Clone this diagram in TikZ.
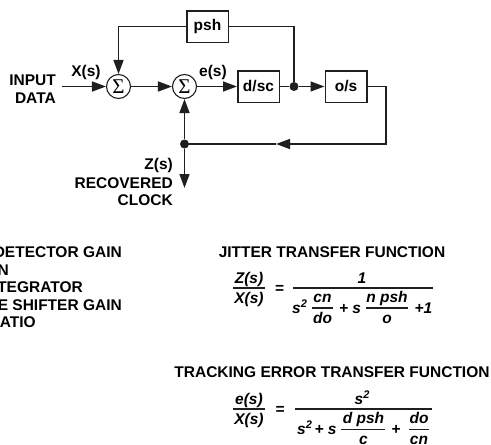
\documentclass[tikz,border=0pt]{standalone}
\usepackage{fontspec}
\setmainfont{Liberation Sans}
\newfontfamily\sigmafont{Liberation Serif}
\usetikzlibrary{arrows.meta}
\begin{document}
\begin{tikzpicture}[x=1pt,y=-1pt,
  ln/.style={line width=1.5pt,draw=black!88},
  arr/.style={ln,-{Triangle[length=14pt,width=10pt]}},
  blk/.style={draw=black!88,line width=1.5pt,minimum width=41.5pt,minimum height=31.5pt,inner sep=0pt,font=\fontsize{15.5}{15.5}\selectfont\bfseries},
  sumc/.style={circle,draw=black!88,line width=1.1pt,minimum size=24pt,inner sep=0pt,font=\sigmafont\fontsize{21}{21}\selectfont},
  dotn/.style={circle,fill=black!88,inner sep=0pt,minimum size=9pt},
  lbl/.style={inner sep=0pt,text height=11.1pt,text depth=0pt,font=\fontsize{15.5}{15.5}\selectfont\bfseries},
  eq/.style={inner sep=0pt,font=\fontsize{15.5}{15.5}\selectfont\bfseries\itshape},
  frl/.style={line width=1.2pt,draw=black!88}
]
\useasboundingbox (0,0) rectangle (491,445);

% blocks
\node[blk] (psh) at (207.5,26.5) {psh};
\node[blk] (dsc) at (258.5,86.5) {d/sc};
\node[blk] (os) at (346,86.5) {o/s};
\node[sumc] (s1) at (118.5,86.5) {Σ};
\node[sumc] (s2) at (184.5,86.5) {Σ};
\node[dotn] (j1) at (294,86.5) {};
\node[dotn] (j2) at (184.5,144) {};
\coordinate (in) at (62,86.5);
\coordinate (c1) at (118.5,26.5);
\coordinate (c2) at (294,26.5);
\coordinate (c3) at (386,86.5);
\coordinate (c4) at (386,144);
\coordinate (tip) at (276,144);
\coordinate (zout) at (184.5,188);

% connectors
\draw[arr] (in) -- (s1);
\draw[arr] (s1) -- (s2);
\draw[arr] (s2) -- (dsc);
\draw[ln] (dsc) -- (j1);
\draw[arr] (j1) -- (os);
\draw[ln] (j1) -- (c2) -- (psh);
\draw[arr] (psh) -- (c1) -- (s1);
\draw[arr] (os) -- (c3) -- (c4) -- (tip);
\draw[ln] (tip) -- (j2);
\draw[arr] (j2) -- (s2);
\draw[arr] (j2) -- (zout);

% labels
\node[lbl,anchor=east] (inp) at (56,80) {INPUT};
\node[lbl,anchor=east] (dat) at (56,97.5) {DATA};
\node[lbl] (xs) at (86,71) {X(s)};
\node[lbl] (es) at (213,71) {e(s)};
\node[lbl,anchor=east] (zs) at (173,164) {Z(s)};
\node[lbl,anchor=east] (rec) at (173,182.5) {RECOVERED};
\node[lbl,anchor=east] (clk) at (173,199.5) {CLOCK};

% left legend (clipped at the edge, as in the reference)
\node[lbl,anchor=east] (g1) at (122,252) {DETECTOR GAIN};
\node[lbl,anchor=east] (g2) at (9,269.5) {N};
\node[lbl,anchor=east] (g3) at (83,287) {TEGRATOR};
\node[lbl,anchor=east] (g4) at (122,304.5) {E SHIFTER GAIN};
\node[lbl,anchor=east] (g5) at (36,322) {ATIO};

% headings
\node[lbl] (h1) at (332,252) {JITTER TRANSFER FUNCTION};
\node[lbl] (h2) at (332,372) {TRACKING ERROR TRANSFER FUNCTION};

% jitter transfer function
\node[eq,anchor=base] (jz) at (249,283) {Z(s)};
\draw[frl] (233,288) -- (265,288);
\node[eq,anchor=base] (jx) at (249,303.5) {X(s)};
\node[eq,anchor=base] (jeq) at (279.5,293.3) {=};
\node[eq,anchor=base] (jone) at (362,283.5) {1};
\draw[frl] (293,288) -- (433,288);
\node[eq,anchor=base west] (js2) at (292,313) {s\raisebox{5.5pt}{\fontsize{11}{11}\selectfont 2}};
\node[eq,anchor=base] (jcn) at (322.5,302) {cn};
\draw[frl] (312,308) -- (333,308);
\node[eq,anchor=base] (jdo) at (322.5,323) {do};
\node[eq,anchor=base] (jps) at (350,313) {+ s};
\node[eq,anchor=base] (jnp) at (387,302) {n psh};
\draw[frl] (366,308) -- (408,308);
\node[eq,anchor=base] (jo) at (387,323) {o};
\node[eq,anchor=base] (jp1) at (423.5,313) {+1};

% tracking error transfer function
\node[eq,anchor=base] (te) at (249,404) {e(s)};
\draw[frl] (233,409) -- (265,409);
\node[eq,anchor=base] (tx) at (249,424.5) {X(s)};
\node[eq,anchor=base] (teq) at (280,414.3) {=};
\node[eq,anchor=base] (tnum) at (362,404) {s\raisebox{5.5pt}{\fontsize{11}{11}\selectfont 2}};
\draw[frl] (295,409) -- (432,409);
\node[eq,anchor=base west] (ts2) at (297,434) {s\raisebox{5.5pt}{\fontsize{11}{11}\selectfont 2}};
\node[eq,anchor=base] (tps) at (325.5,434) {+ s};
\node[eq,anchor=base] (tdp) at (363.5,423.5) {d psh};
\draw[frl] (341,429.5) -- (385,429.5);
\node[eq,anchor=base] (tc) at (363.5,444.5) {c};
\node[eq,anchor=base] (tpl) at (396,434) {+};
\node[eq,anchor=base] (tdo) at (419,423.5) {do};
\draw[frl] (409,429.5) -- (429,429.5);
\node[eq,anchor=base] (tcn) at (419,444.5) {cn};
\end{tikzpicture}
\end{document}
